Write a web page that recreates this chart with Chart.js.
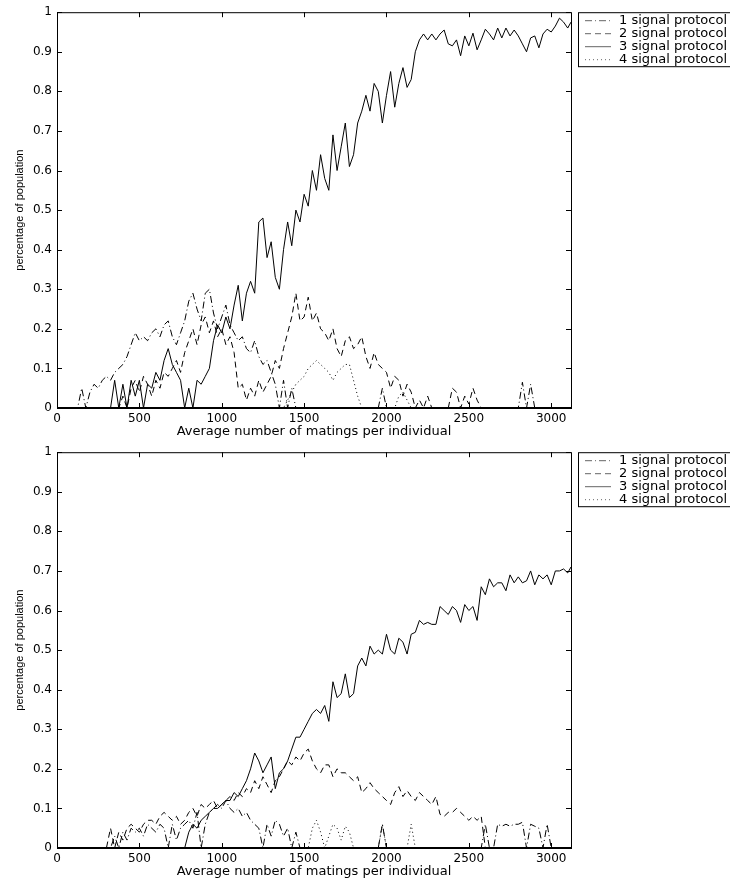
<!DOCTYPE html>
<html>
<head>
<meta charset="utf-8">
<script src="https://cdn.jsdelivr.net/npm/chart.js@4.4.0/dist/chart.umd.min.js"></script>
<style>
  body { margin: 0; background: #fff; }
  .panel { position: absolute; left: 0; width: 730px; height: 440px; }
</style>
</head>
<body>
<div class="panel" style="top:0"><canvas id="chartTop" width="730" height="440"></canvas></div>
<div class="panel" style="top:440px"><canvas id="chartBottom" width="730" height="440"></canvas></div>
<script>
// average number of matings per individual (sample positions)
const matings = [
  0, 25, 50, 75, 100, 125, 150, 175, 200, 225,
  250, 275, 300, 325, 350, 375, 400, 425, 450, 475,
  500, 525, 550, 575, 600, 625, 650, 675, 700, 725,
  750, 775, 800, 825, 850, 875, 900, 925, 950, 975,
  1000, 1025, 1050, 1075, 1100, 1125, 1150, 1175, 1200, 1225,
  1250, 1275, 1300, 1325, 1350, 1375, 1400, 1425, 1450, 1475,
  1500, 1525, 1550, 1575, 1600, 1625, 1650, 1675, 1700, 1725,
  1750, 1775, 1800, 1825, 1850, 1875, 1900, 1925, 1950, 1975,
  2000, 2025, 2050, 2075, 2100, 2125, 2150, 2175, 2200, 2225,
  2250, 2275, 2300, 2325, 2350, 2375, 2400, 2425, 2450, 2475,
  2500, 2525, 2550, 2575, 2600, 2625, 2650, 2675, 2700, 2725,
  2750, 2775, 2800, 2825, 2850, 2875, 2900, 2925, 2950, 2975,
  3000, 3025, 3050, 3075, 3100, 3120
];

const protocols = ['1 signal protocol', '2 signal protocol', '3 signal protocol', '4 signal protocol'];
const xTicks = [0, 500, 1000, 1500, 2000, 2500, 3000];
const yTicks = [0, 0.1, 0.2, 0.3, 0.4, 0.5, 0.6, 0.7, 0.8, 0.9, 1];

// upper run
const top1 = [
  0, 0, 0, 0, 0, 0, 0.05, 0, 0.04, 0.06,
  0.05, 0.07, 0.08, 0.07, 0.09, 0.1, 0.11, 0.13, 0.16, 0.19,
  0.17, 0.18, 0.17, 0.19, 0.2, 0.18, 0.21, 0.22, 0.18, 0.16,
  0.19, 0.22, 0.27, 0.29, 0.25, 0.22, 0.29, 0.3, 0.24, 0.2,
  0.23, 0.26, 0.21, 0.19, 0.17, 0.18, 0.15, 0.14, 0.17, 0.13,
  0.11, 0.12, 0.09, 0.06, 0, 0.07, 0, 0.05, 0, 0,
  0, 0, 0, 0, 0, 0, 0, 0, 0, 0,
  0, 0, 0, 0, 0, 0, 0, 0, 0, 0.05,
  0, 0, 0, 0, 0, 0, 0, 0, 0, 0,
  0, 0, 0, 0, 0, 0, 0, 0, 0, 0,
  0, 0, 0, 0, 0, 0, 0, 0, 0, 0,
  0, 0, 0, 0.065, 0, 0.06, 0, 0, 0, 0,
  0, 0, 0, 0, 0, 0
];
const top2 = [
  0, 0, 0, 0, 0, 0, 0, 0, 0, 0,
  0, 0, 0, 0, 0, 0, 0.03, 0, 0.05, 0.07,
  0.04, 0.08, 0.06, 0.03, 0.07, 0.05, 0.09, 0.08, 0.1, 0.12,
  0.09, 0.14, 0.17, 0.2, 0.16, 0.21, 0.23, 0.19, 0.22, 0.18,
  0.2, 0.16, 0.18, 0.14, 0.05, 0.06, 0.02, 0.05, 0.03, 0.07,
  0.04, 0.06, 0.08, 0.12, 0.1, 0.15, 0.19, 0.23, 0.29, 0.22,
  0.23, 0.28, 0.22, 0.24, 0.2, 0.19, 0.17, 0.2, 0.15, 0.13,
  0.17, 0.18, 0.15, 0.16, 0.18, 0.13, 0.1, 0.14, 0.11, 0.1,
  0.09, 0.05, 0.08, 0.07, 0.03, 0.06, 0.04, 0, 0.02, 0,
  0.03, 0, 0, 0, 0, 0, 0.05, 0.04, 0, 0.03,
  0.01, 0.05, 0.02, 0, 0, 0, 0, 0, 0, 0,
  0, 0, 0, 0, 0, 0, 0, 0, 0, 0,
  0, 0, 0, 0, 0, 0
];
const top3 = [
  0, 0, 0, 0, 0, 0, 0, 0, 0, 0,
  0, 0, 0, 0, 0.07, 0, 0.06, 0, 0.07, 0.03,
  0.07, 0, 0.06, 0.05, 0.09, 0.07, 0.12, 0.15, 0.11, 0.09,
  0.07, 0, 0.05, 0, 0.07, 0.06, 0.08, 0.1, 0.17, 0.21,
  0.19, 0.23, 0.2, 0.26, 0.31, 0.22, 0.29, 0.32, 0.29, 0.47,
  0.48, 0.38, 0.42, 0.33, 0.3, 0.4, 0.47, 0.41, 0.5, 0.47,
  0.54, 0.51, 0.6, 0.55, 0.64, 0.58, 0.55, 0.69, 0.6, 0.66,
  0.72, 0.61, 0.64, 0.72, 0.75, 0.79, 0.75, 0.82, 0.8, 0.72,
  0.79, 0.85, 0.76, 0.82, 0.86, 0.81, 0.83, 0.9, 0.93, 0.945,
  0.93, 0.945, 0.93, 0.945, 0.955, 0.92, 0.915, 0.93, 0.89, 0.94,
  0.915, 0.947, 0.905, 0.93, 0.957, 0.945, 0.93, 0.96, 0.935, 0.96,
  0.94, 0.955, 0.94, 0.92, 0.9, 0.935, 0.94, 0.91, 0.945, 0.957,
  0.95, 0.965, 0.985, 0.975, 0.96, 0.975
];
const top4 = [
  0, 0, 0, 0, 0, 0, 0, 0, 0, 0,
  0, 0, 0, 0, 0, 0, 0, 0, 0, 0,
  0, 0, 0, 0, 0, 0, 0, 0, 0, 0,
  0, 0, 0, 0, 0, 0, 0, 0, 0, 0,
  0, 0, 0, 0, 0, 0, 0, 0, 0, 0,
  0, 0, 0, 0, 0, 0, 0.02, 0.04, 0.06, 0.07,
  0.08, 0.1, 0.11, 0.12, 0.11, 0.1, 0.09, 0.07, 0.09, 0.1,
  0.11, 0.11, 0.07, 0.03, 0, 0, 0, 0, 0, 0,
  0, 0, 0, 0.03, 0.04, 0.02, 0, 0, 0, 0,
  0, 0, 0, 0, 0, 0, 0, 0, 0, 0,
  0, 0, 0, 0, 0, 0, 0, 0, 0, 0,
  0, 0, 0, 0, 0, 0, 0, 0, 0, 0,
  0, 0, 0, 0, 0, 0
];

// lower run
const bot1 = [
  0, 0, 0, 0, 0, 0, 0, 0, 0, 0,
  0, 0, 0, 0, 0.03, 0, 0.04, 0.02, 0.05, 0.04,
  0.05, 0.03, 0.06, 0.05, 0.04, 0.06, 0.05, 0, 0.06, 0.02,
  0.05, 0.06, 0.07, 0.05, 0.09, 0, 0.06, 0.09, 0.1, 0.11,
  0.1, 0.12, 0.1, 0.09, 0.1, 0.08, 0.09, 0.07, 0.06, 0.05,
  0, 0.06, 0.03, 0.07, 0.06, 0.03, 0.05, 0, 0.04, 0,
  0, 0, 0, 0, 0, 0, 0, 0, 0, 0,
  0, 0, 0, 0, 0, 0, 0, 0, 0, 0.06,
  0, 0, 0, 0, 0, 0, 0, 0, 0, 0,
  0, 0, 0, 0, 0, 0, 0, 0, 0, 0,
  0, 0, 0, 0, 0.06, 0, 0, 0.06, 0.055, 0.06,
  0.055, 0.06, 0.06, 0.065, 0, 0.06, 0.055, 0.05, 0, 0.06,
  0, 0, 0, 0, 0, 0
];
const bot2 = [
  0, 0, 0, 0, 0, 0, 0, 0, 0, 0,
  0, 0, 0, 0.05, 0, 0.04, 0.02, 0.05, 0.06, 0.05,
  0.04, 0.06, 0.07, 0.07, 0.06, 0.08, 0.09, 0.08, 0.07, 0.08,
  0.06, 0.07, 0.09, 0.1, 0.08, 0.11, 0.1, 0.11, 0.12, 0.1,
  0.11, 0.12, 0.13, 0.12, 0.14, 0.13, 0.15, 0.14, 0.17, 0.15,
  0.18, 0.16, 0.14, 0.17, 0.18, 0.2, 0.22, 0.21, 0.23, 0.22,
  0.24, 0.25, 0.22, 0.2, 0.19, 0.21, 0.21, 0.18, 0.2, 0.19,
  0.19, 0.18, 0.17, 0.18, 0.14, 0.15, 0.165, 0.15, 0.14, 0.13,
  0.12, 0.11, 0.14, 0.155, 0.13, 0.145, 0.13, 0.12, 0.14, 0.13,
  0.12, 0.11, 0.13, 0.085, 0.08, 0.09, 0.09, 0.1, 0.09, 0.08,
  0.07, 0.08, 0.07, 0.08, 0, 0, 0, 0, 0, 0,
  0, 0, 0, 0, 0, 0, 0, 0, 0, 0,
  0, 0, 0, 0, 0, 0
];
const bot3 = [
  0, 0, 0, 0, 0, 0, 0, 0, 0, 0,
  0, 0, 0, 0, 0, 0, 0, 0, 0, 0,
  0, 0, 0, 0, 0, 0, 0, 0, 0, 0,
  0, 0, 0.04, 0.06, 0.05, 0.07, 0.08, 0.09, 0.1, 0.1,
  0.11, 0.12, 0.12, 0.14, 0.13, 0.15, 0.17, 0.2, 0.24, 0.22,
  0.19, 0.21, 0.23, 0.15, 0.19, 0.2, 0.22, 0.25, 0.28, 0.28,
  0.3, 0.32, 0.34, 0.35, 0.34, 0.36, 0.32, 0.42, 0.38, 0.39,
  0.44, 0.38, 0.39, 0.46, 0.48, 0.46, 0.51, 0.49, 0.5, 0.49,
  0.54, 0.5, 0.49, 0.53, 0.52, 0.49, 0.54, 0.545, 0.575, 0.565,
  0.57, 0.565, 0.565, 0.61, 0.6, 0.59, 0.61, 0.6, 0.57, 0.615,
  0.6, 0.61, 0.575, 0.66, 0.64, 0.68, 0.66, 0.67, 0.67, 0.65,
  0.69, 0.67, 0.685, 0.67, 0.675, 0.7, 0.665, 0.69, 0.68, 0.69,
  0.665, 0.7, 0.7, 0.705, 0.695, 0.71
];
const bot4 = [
  0, 0, 0, 0, 0, 0, 0, 0, 0, 0,
  0, 0, 0, 0, 0, 0, 0, 0, 0, 0,
  0, 0, 0, 0, 0, 0, 0, 0, 0, 0,
  0, 0, 0, 0, 0, 0, 0, 0, 0, 0,
  0, 0, 0, 0, 0, 0, 0, 0, 0, 0,
  0, 0, 0, 0, 0, 0, 0, 0, 0, 0,
  0, 0, 0.05, 0.07, 0.04, 0, 0.03, 0.06, 0.05, 0.02,
  0.055, 0.04, 0, 0, 0, 0, 0, 0, 0, 0.06,
  0, 0, 0, 0, 0, 0, 0.06, 0, 0, 0,
  0, 0, 0, 0, 0, 0, 0, 0, 0, 0,
  0, 0, 0, 0, 0, 0, 0, 0, 0, 0,
  0, 0, 0, 0, 0, 0, 0, 0, 0, 0,
  0, 0, 0, 0, 0, 0
];

const dashes = [[7, 3, 1, 3], [6, 4], [], [1, 3]];

function makeSets(series) {
  return series.map((vals, i) => ({
    label: protocols[i],
    data: matings.map((m, j) => ({ x: m, y: vals[j] })),
    borderColor: '#000',
    borderWidth: 1,
    borderDash: dashes[i],
    pointRadius: 0,
    tension: 0,
    fill: false
  }));
}

// matlab style box, inward ticks and legend box
const framePlugin = {
  id: 'frame',
  afterDraw(chart) {
    const { ctx, chartArea: a, scales } = chart;
    ctx.save();
    ctx.strokeStyle = '#000';
    ctx.lineWidth = 1;
    ctx.setLineDash([]);
    ctx.strokeRect(a.left + 0.5, a.top + 0.5, a.right - a.left, a.bottom - a.top);
    // zero line looks heavy in the original
    ctx.lineWidth = 2;
    ctx.beginPath();
    ctx.moveTo(a.left, a.bottom); ctx.lineTo(a.right + 1, a.bottom);
    ctx.stroke();
    ctx.lineWidth = 1;
    ctx.beginPath();
    xTicks.forEach(v => {
      const px = Math.round(scales.x.getPixelForValue(v)) + 0.5;
      ctx.moveTo(px, a.bottom); ctx.lineTo(px, a.bottom - 5);
      ctx.moveTo(px, a.top); ctx.lineTo(px, a.top + 5);
    });
    yTicks.forEach(v => {
      const py = Math.round(scales.y.getPixelForValue(v)) + 0.5;
      ctx.moveTo(a.left, py); ctx.lineTo(a.left + 5, py);
      ctx.moveTo(a.right, py); ctx.lineTo(a.right - 5, py);
    });
    ctx.stroke();

    // legend
    const lx = 578, ly = a.top;
    ctx.fillStyle = '#fff';
    ctx.fillRect(lx, ly, 160, 54);
    ctx.strokeRect(lx + 0.5, ly + 0.5, 160, 54);
    ctx.font = '13px "DejaVu Sans"';
    ctx.textBaseline = 'middle';
    ctx.fillStyle = '#000';
    chart.data.datasets.forEach((ds, i) => {
      const yy = ly + 8.5 + i * 13;
      ctx.strokeStyle = '#666';
      ctx.setLineDash(ds.borderDash);
      ctx.beginPath();
      ctx.moveTo(585, yy); ctx.lineTo(611, yy);
      ctx.stroke();
      ctx.fillText(ds.label, 619, yy);
    });
    ctx.restore();
  }
};

function build(id, series, padTop) {
  return new Chart(document.getElementById(id), {
    type: 'line',
    data: { datasets: makeSets(series) },
    plugins: [framePlugin],
    options: {
      responsive: false,
      animation: false,
      layout: { padding: { left: 0, top: padTop, right: 159, bottom: 0 } },
      plugins: { legend: { display: false }, tooltip: { enabled: false } },
      scales: {
        x: {
          type: 'linear',
          min: 0,
          max: 3120,
          grid: { display: false, drawTicks: false },
          border: { display: false },
          afterBuildTicks: s => { s.ticks = xTicks.map(v => ({ value: v })); },
          ticks: { padding: 4, color: '#000', maxRotation: 0, autoSkip: false,
                   callback: v => String(v),
                   font: { family: 'DejaVu Sans', size: 12 } },
          title: { display: true, text: 'Average number of matings per individual', color: '#000',
                   font: { family: 'DejaVu Sans', size: 13 }, padding: { top: 0, bottom: 1 } },
          afterFit: s => { s.height = 32; }
        },
        y: {
          min: 0,
          max: 1,
          grid: { display: false, drawTicks: false },
          border: { display: false },
          afterBuildTicks: s => { s.ticks = yTicks.map(v => ({ value: v })); },
          ticks: { padding: 5, color: '#000', autoSkip: false,
                   callback: v => String(Number(v.toFixed(1))),
                   font: { family: 'DejaVu Sans', size: 12 } },
          title: { display: true, text: 'percentage of population', color: '#000',
                   font: { family: 'Liberation Sans', size: 11 }, padding: { top: 13, bottom: 0 } },
          afterFit: s => { s.width = 57; }
        }
      }
    }
  });
}

build('chartTop', [top1, top2, top3, top4], 11);
build('chartBottom', [bot1, bot2, bot3, bot4], 12);
</script>
</body>
</html>
